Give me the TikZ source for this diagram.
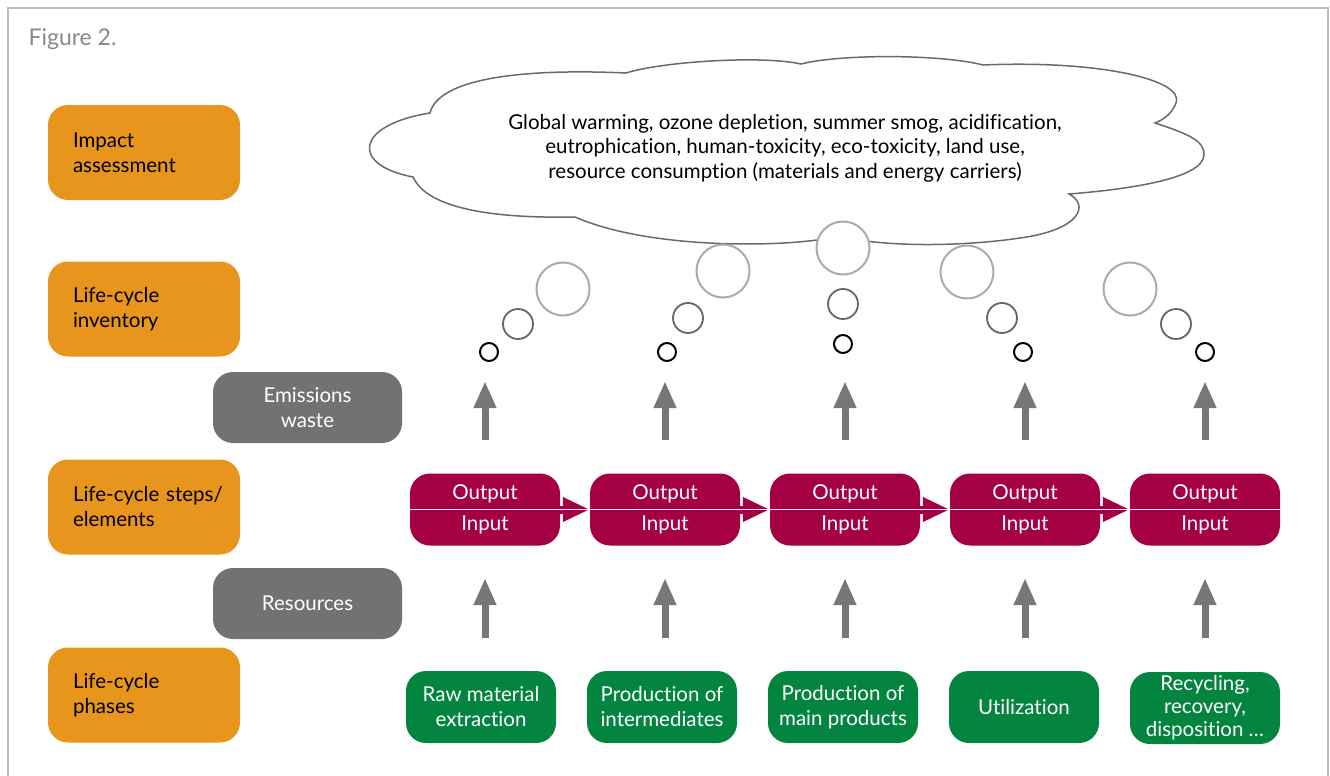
\documentclass[tikz,border=0pt]{standalone}
\usepackage{fontspec}
\setmainfont{Lato}[Ligatures={NoCommon}]
\usetikzlibrary{arrows.meta}
\definecolor{orangeC}{HTML}{E8951D}
\definecolor{grayBox}{HTML}{727272}
\definecolor{crimsonC}{HTML}{A50044}
\definecolor{greenC}{HTML}{04853F}
\definecolor{arrowGray}{HTML}{777777}
\definecolor{frameGray}{HTML}{BDBDBD}
\definecolor{cloudLine}{HTML}{6A6A6A}
\definecolor{figGray}{HTML}{888888}
\newcommand{\fs}{\fontsize{20.5}{25}\selectfont}
\tikzset{
  levelbox/.style={rectangle, rounded corners=20pt, fill=orangeC, minimum height=95pt,
    text width=142pt, inner xsep=25pt, align=left, font=\fs, text=black},
  flowbox/.style={rectangle, rounded corners=20pt, fill=grayBox, minimum width=189pt,
    minimum height=71pt, align=center, font=\fs, text=white},
  stepbox/.style={rectangle, rounded corners=20pt, fill=crimsonC, minimum width=150pt,
    minimum height=72pt, align=center, font=\fontsize{20.5}{31}\selectfont, text=white, inner sep=0pt},
  phasebox/.style={rectangle, rounded corners=20pt, fill=greenC, minimum width=150pt,
    minimum height=72pt, align=center, font=\fs, text=white, inner sep=0pt},
  bubS/.style={circle, draw=black, fill=white, line width=2pt, minimum size=18pt, inner sep=0pt},
  bubM/.style={circle, draw=black!60, fill=white, line width=1.8pt, minimum size=30pt, inner sep=0pt},
  bubL/.style={circle, draw=black!33, fill=white, line width=2pt, minimum size=53pt, inner sep=0pt},
  uparrow/.style={draw=arrowGray, line width=7pt, -{Triangle[width=21pt,length=27pt]}},
  steparrow/.style={draw=crimsonC, line width=8pt, -{Triangle[width=23pt,length=27pt]}}
}
\begin{document}
\begin{tikzpicture}[x=1pt,y=-1pt]
\useasboundingbox (0,0) rectangle (1330,776);
\fill[white] (0,0) rectangle (1330,776);
\draw[frameGray, line width=2pt] (8,800) -- (8,8) -- (1328,8) -- (1328,800);
\node[anchor=west, text=figGray, font=\fontsize{23}{25}\selectfont] (fig) at (25,39) {Figure 2.};

% cloud
\draw[cloudLine, line width=1.5pt, fill=white]
 (413,177) .. controls (350,165) and (355,125) .. (430,113)
 .. controls (438,80) and (515,68) .. (626,73)
 .. controls (660,62) and (760,55) .. (801,64)
 .. controls (840,54) and (940,54) .. (983,65)
 .. controls (1100,60) and (1185,80) .. (1176,103)
 .. controls (1172,113) and (1165,119) .. (1155,123)
 .. controls (1185,133) and (1205,140) .. (1204,155)
 .. controls (1203,180) and (1120,190) .. (1069,194)
 .. controls (1090,205) and (1080,230) .. (1020,238)
 .. controls (960,247) and (880,247) .. (840,236)
 .. controls (790,248) and (650,250) .. (575,217)
 .. controls (520,218) and (430,215) .. (413,177) -- cycle;
\node[align=center, font=\fontsize{20.5}{24.5}\selectfont] (impacts) at (785,148)
 {Global warming, ozone depletion, summer smog, acidification,\\
  eutrophication, human-toxicity, eco-toxicity, land use,\\
  resource consumption (materials and energy carriers)};

% bubbles
\node[bubL] (l1) at (563,289) {};
\node[bubM] (m1) at (518,324) {};
\node[bubS] (s1b) at (489,352) {};
\node[bubL] (l2) at (723,271) {};
\node[bubM] (m2) at (688,318) {};
\node[bubS] (s2b) at (667,352) {};
\node[bubL] (l3) at (843,248) {};
\node[bubM] (m3) at (843,304) {};
\node[bubS] (s3b) at (843,344) {};
\node[bubL] (l4) at (967,272) {};
\node[bubM] (m4) at (1002,318) {};
\node[bubS] (s4b) at (1023,352) {};
\node[bubL] (l5) at (1130,289) {};
\node[bubM] (m5) at (1176,324) {};
\node[bubS] (s5b) at (1205,352) {};

% level boxes
\node[levelbox] (o1) at (144,152.5) {Impact\\assessment};
\node[levelbox] (o2) at (144,309) {Life-cycle\\inventory};
\node[levelbox] (o3) at (144,507) {\mbox{Life-cycle steps/}\\elements};
\node[levelbox] (o4) at (144,695) {Life-cycle\\phases};

\node[flowbox] (em) at (307.5,407.5) {Emissions\\waste};
\node[flowbox] (res) at (307.5,603.5) {Resources};

% step boxes
\foreach \i/\x in {1/485,2/665,3/845,4/1025,5/1205}{
  \node[stepbox] (s\i) at (\x,509.5) {Output\\Input};
  \coordinate (et\i) at (\x,381);
  \coordinate (eb\i) at (\x,440);
  \coordinate (rt\i) at (\x,578);
  \coordinate (rb\i) at (\x,638);
  \draw[uparrow] (eb\i) -- (et\i);
  \draw[uparrow] (rb\i) -- (rt\i);
}
\foreach \a/\b in {1/2,2/3,3/4,4/5}{
  \draw[steparrow] (s\a.east) -- (s\b.west);
}
\draw[white, line width=1.6pt] (s1.west) -- (s5.east);

% phase boxes
\node[phasebox] (p1) at (481,707) {Raw material\\extraction};
\node[phasebox] (p2) at (662,707) {Production of\\intermediates};
\node[phasebox] (p3) at (843,707) {Production of\\main products};
\node[phasebox] (p4) at (1024,707) {Utilization};
\node[phasebox, font=\fontsize{20.5}{23}\selectfont] (p5) at (1205,708) {Recycling,\\recovery,\\disposition \dots};
\end{tikzpicture}
\end{document}
